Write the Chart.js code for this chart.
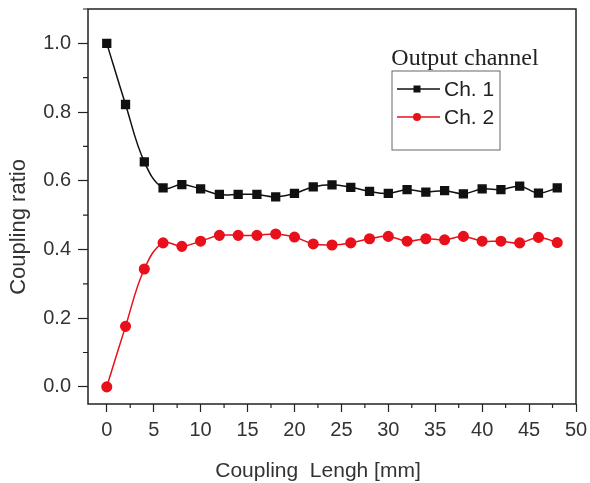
<!DOCTYPE html>
<html>
<head>
<meta charset="utf-8">
<script src="https://cdn.jsdelivr.net/npm/chart.js@4.4.0/dist/chart.umd.min.js"></script>
<style>
  html, body { margin: 0; padding: 0; background: #fff; }
  #wrap { width: 590px; height: 483px; }
</style>
</head>
<body>
<div id="wrap"><canvas id="chart" width="590" height="483"></canvas></div>
<script>
// coupling length [mm]
var lengths = [0, 2, 4, 6, 8, 10, 12, 14, 16, 18, 20, 22, 24, 26, 28, 30, 32, 34, 36, 38, 40, 42, 44, 46, 48]
var ch1 = [1.0, 0.822, 0.655, 0.579, 0.589, 0.576, 0.56, 0.56, 0.56, 0.553, 0.563, 0.582, 0.588,
  0.581, 0.569, 0.563, 0.574, 0.567, 0.571, 0.562, 0.576, 0.574, 0.584, 0.564, 0.579]
var ch2 = [0.0, 0.176, 0.343, 0.419, 0.409, 0.424, 0.441, 0.441, 0.441, 0.445, 0.436, 0.416, 0.413,
  0.419, 0.431, 0.438, 0.424, 0.431, 0.428, 0.438, 0.424, 0.424, 0.419, 0.435, 0.42]
var xTicks = [0, 5, 10, 15, 20, 25, 30, 35, 40, 45, 50]
var yTicks = [0.0, 0.2, 0.4, 0.6, 0.8, 1.0]
var xTitle = 'Coupling  Lengh [mm]'
var yTitle = 'Coupling ratio'

var textColor = '#333'
var red = '#e8101a'
var sans = '"Liberation Sans", Arial, sans-serif'

function toPoints(ys) {
  return ys.map((y, i) => ({ x: lengths[i], y: y }))
}

// frame, minor ticks, axis titles and the in-plot legend
var framePlugin = {
  id: 'frame',
  afterDraw(chart) {
    let ctx = chart.ctx
    let a = chart.chartArea
    let xs = chart.scales.x
    let ys = chart.scales.y
    ctx.save()
    ctx.strokeStyle = '#222'
    ctx.lineWidth = 1.5
    ctx.strokeRect(a.left, a.top, a.right - a.left, a.bottom - a.top)

    ctx.lineWidth = 1.2
    ctx.beginPath()
    for (let v = 2.5; v < 50; v += 5) {
      let px = xs.getPixelForValue(v)
      ctx.moveTo(px, a.bottom)
      ctx.lineTo(px, a.bottom + 4)
    }
    for (let v = 0.1; v < 1.1; v += 0.2) {
      let py = ys.getPixelForValue(v)
      ctx.moveTo(a.left, py)
      ctx.lineTo(a.left - 5, py)
    }
    ctx.stroke()

    // axis titles
    ctx.fillStyle = textColor
    ctx.font = '21px ' + sans
    ctx.textAlign = 'center'
    ctx.textBaseline = 'alphabetic'
    ctx.fillText(xTitle, 318, 477)
    ctx.save()
    ctx.translate(19, 227)
    ctx.rotate(-Math.PI / 2)
    ctx.font = '22px ' + sans
    ctx.textBaseline = 'middle'
    ctx.fillText(yTitle, 0, 0)
    ctx.restore()

    // legend
    ctx.fillStyle = '#222'
    ctx.font = '24px "Liberation Serif", "Times New Roman", serif'
    ctx.textAlign = 'center'
    ctx.textBaseline = 'alphabetic'
    ctx.fillText('Output channel', 465, 65)

    ctx.strokeStyle = '#666'
    ctx.lineWidth = 1
    ctx.strokeRect(392, 71, 108, 79)

    let rows = [
      { y: 89, color: '#111', label: 'Ch. 1', shape: 'rect' },
      { y: 117, color: red, label: 'Ch. 2', shape: 'circle' }
    ]
    rows.forEach(r => {
      ctx.strokeStyle = r.color
      ctx.lineWidth = 1.5
      ctx.beginPath()
      ctx.moveTo(397, r.y)
      ctx.lineTo(440, r.y)
      ctx.stroke()
      ctx.fillStyle = r.color
      if (r.shape === 'rect') {
        ctx.fillRect(413.5, r.y - 3.5, 7, 7)
      } else {
        ctx.beginPath()
        ctx.arc(417, r.y, 4, 0, Math.PI * 2)
        ctx.fill()
      }
      ctx.fillStyle = '#222'
      ctx.font = '21px ' + sans
      ctx.textAlign = 'left'
      ctx.textBaseline = 'middle'
      ctx.fillText(r.label, 444, r.y + 1)
    })
    ctx.restore()
  }
}

new Chart(document.getElementById('chart'), {
  type: 'line',
  data: {
    datasets: [
      {
        label: 'Ch. 1',
        data: toPoints(ch1),
        borderColor: '#111',
        backgroundColor: '#111',
        borderWidth: 1.5,
        pointStyle: 'rect',
        pointRadius: 5.5,
        tension: 0.4
      },
      {
        label: 'Ch. 2',
        data: toPoints(ch2),
        borderColor: red,
        backgroundColor: red,
        borderWidth: 1.5,
        pointStyle: 'circle',
        pointRadius: 4.8,
        tension: 0.4
      }
    ]
  },
  options: {
    responsive: false,
    animation: false,
    layout: { padding: { top: 9, right: 14, left: 0, bottom: 0 } },
    plugins: {
      legend: { display: false },
      tooltip: { enabled: false }
    },
    scales: {
      x: {
        type: 'linear',
        min: -2,
        max: 50,
        afterBuildTicks(scale) {
          scale.ticks = xTicks.map(v => ({ value: v }))
        },
        afterFit(scale) {
          scale.height = 79
          scale.paddingLeft = 0
          scale.paddingRight = 0
        },
        grid: { drawOnChartArea: false, tickLength: 8, tickColor: '#222', tickWidth: 1.2 },
        border: { display: false },
        ticks: {
          color: textColor,
          font: { size: 20, family: sans },
          padding: 6,
          maxRotation: 0
        }
      },
      y: {
        min: -0.05,
        max: 1.1,
        afterBuildTicks(scale) {
          scale.ticks = yTicks.map(v => ({ value: v }))
        },
        afterFit(scale) {
          scale.width = 88
          scale.paddingTop = 0
          scale.paddingBottom = 0
        },
        grid: { drawOnChartArea: false, tickLength: 10, tickColor: '#222', tickWidth: 1.2 },
        border: { display: false },
        ticks: {
          color: textColor,
          font: { size: 20, family: sans },
          padding: 7,
          callback: v => v.toFixed(1)
        }
      }
    }
  },
  plugins: [framePlugin]
})
</script>
</body>
</html>
